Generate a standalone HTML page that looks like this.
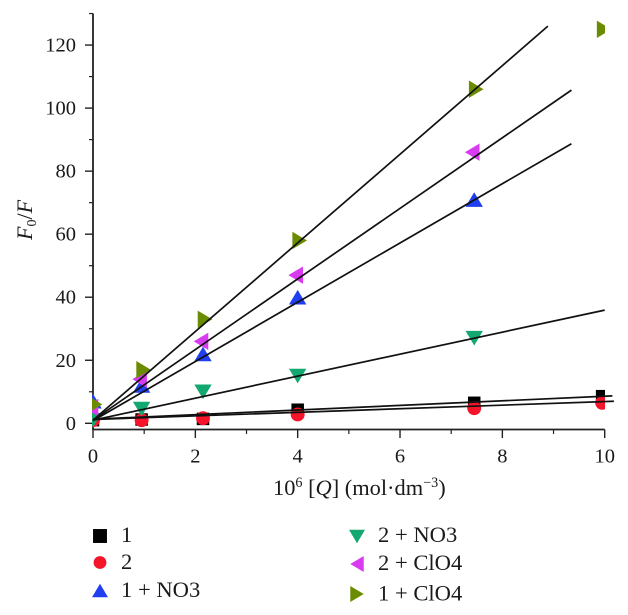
<!DOCTYPE html>
<html>
<head>
<meta charset="utf-8">
<title>Stern-Volmer plot</title>
<style>
html,body{margin:0;padding:0;background:#fff;}
body{width:628px;height:615px;overflow:hidden;}
svg{display:block;}
text{font-family:"Liberation Serif",serif;fill:#1a1a1a;}
</style>
</head>
<body>
<svg id="chart" width="628" height="615" viewBox="0 0 628 615" xmlns="http://www.w3.org/2000/svg">
<defs><clipPath id="plot-clip"><rect x="92" y="0" width="513" height="430"/></clipPath></defs>
<g id="axes"></g>
<g id="markers" clip-path="url(#plot-clip)"></g>
<g id="fits"></g>
<text x="273" y="495" font-size="22.4">10<tspan dy="-8" font-size="14.2">6</tspan><tspan dy="8"> [</tspan><tspan font-style="italic">Q</tspan>] (mol·dm<tspan dy="-8" font-size="14.2">−3</tspan><tspan dy="8">)</tspan></text>
<text transform="translate(32,240) rotate(-90)" font-size="22"><tspan font-style="italic">F</tspan><tspan dy="4" font-size="14">0</tspan><tspan dy="-4">/</tspan><tspan font-style="italic">F</tspan></text>
<g id="legend"></g>
</svg>
<script>
var xValues = [0, 0.95, 2.15, 4, 7.45, 9.95];
var seriesNames = ['1', '2', '1 + NO3', '2 + NO3', '2 + ClO4', '1 + ClO4'];
var series1 = [1, 1.2, 1.4, 4.3, 6.5, 8.6];
var series2 = [1, 1, 1.6, 2.8, 4.8, 6.5];
var series1NO3 = [7, 12, 22, 40, 71];
var series2NO3 = [1, 4.5, 10, 15, 27];
var series2ClO4 = [5, 14, 26, 47, 86];
var series1ClO4 = [6, 17, 33, 58, 106, 125];
var fitStartY = [1.3, 1.2, 0.8, 1, 1, 1];
var fitEndX = [10.15, 10.18, 9.35, 10, 9.35, 8.89];
var fitEndY = [8.7, 7, 88.7, 35.9, 105.7, 126];
var xTicks = [0, 2, 4, 6, 8, 10];
var yTicks = [0, 20, 40, 60, 80, 100, 120];
var xMinorTicks = [1, 3, 5, 7, 9];
var yMinorTicks = [10, 30, 50, 70, 90, 110, 130];

var seriesValues = [series1, series2, series1NO3, series2NO3, series2ClO4, series1ClO4];
var colors = ['#000000', '#f5142a', '#1f3ff0', '#12a870', '#d93cf0', '#6b8c00'];
var shapes = ['square', 'circle', 'up', 'down', 'left', 'right'];
var NS = 'http://www.w3.org/2000/svg';

function sx(v) { return 93 + v * 51.17; }
function sy(v) { return 423.3 - v * 3.152; }

function make(parent, tag, attrs) {
  var el = document.createElementNS(NS, tag);
  for (var k in attrs) { el.setAttribute(k, attrs[k]); }
  parent.appendChild(el);
  return el;
}

function drawMarker(parent, shape, cx, cy, color, r, squareFactor, sideShift) {
  var el;
  if (shape === 'square') {
    el = make(parent, 'rect', {x: cx - r * squareFactor, y: cy - r * squareFactor, width: 2 * r * squareFactor, height: 2 * r * squareFactor, fill: color});
  } else if (shape === 'circle') {
    el = make(parent, 'circle', {cx: cx, cy: cy, r: r * 0.8, fill: color});
  } else {
    var a = r, b = r * 0.84, pts;
    if (shape === 'up') pts = [[cx - a, cy + b], [cx + a, cy + b], [cx, cy - b]];
    if (shape === 'down') pts = [[cx - a, cy - b], [cx + a, cy - b], [cx, cy + b]];
    if (shape === 'left') { cx -= sideShift; pts = [[cx + b, cy - a], [cx + b, cy + a], [cx - b, cy]]; }
    if (shape === 'right') { cx += sideShift; pts = [[cx - b, cy - a], [cx - b, cy + a], [cx + b, cy]]; }
    el = make(parent, 'polygon', {points: pts.map(function (p) { return p.join(','); }).join(' '), fill: color});
  }
  return el;
}

var axes = document.getElementById('axes');
var axisColor = '#222222';
var xAxisLine = make(axes, 'line', {x1: sx(0), y1: 429.5, x2: sx(10), y2: 429.5, stroke: axisColor, 'stroke-width': 1.8});


var yAxisLine = make(axes, 'line', {x1: sx(0), y1: 13.5, x2: sx(0), y2: 430, stroke: axisColor, 'stroke-width': 1.8});



xTicks.forEach(function (t) {
  var tick = make(axes, 'line', {x1: sx(t), y1: 429.5, x2: sx(t), y2: 438, stroke: axisColor, 'stroke-width': 1.4});
  
  
  var label = make(axes, 'text', {x: sx(t), y: 462.5, 'text-anchor': 'middle', 'font-size': 20.5});
  label.textContent = t;
  
  
});
xMinorTicks.forEach(function (t) {
  var tick = make(axes, 'line', {x1: sx(t), y1: 429.5, x2: sx(t), y2: 434, stroke: axisColor, 'stroke-width': 1.2});
  
  
});
yTicks.forEach(function (t) {
  var tick = make(axes, 'line', {x1: 85, y1: sy(t), x2: sx(0), y2: sy(t), stroke: axisColor, 'stroke-width': 1.4});
  
  
  var label = make(axes, 'text', {x: 76, y: sy(t) + 6.5, 'text-anchor': 'end', 'font-size': 20.5});
  label.textContent = t;
  
  
});
yMinorTicks.forEach(function (t) {
  var tick = make(axes, 'line', {x1: 89, y1: sy(t), x2: sx(0), y2: sy(t), stroke: axisColor, 'stroke-width': 1.2});
  
  
});

var markers = document.getElementById('markers');
seriesValues.forEach(function (vals, i) {
  vals.forEach(function (v, j) {
    var m = drawMarker(markers, shapes[i], sx(xValues[j]), sy(v), colors[i], 8.7, 0.72, 2);
    
    
  });
});

var fits = document.getElementById('fits');
fitEndX.forEach(function (ex, i) {
  var l = make(fits, 'line', {x1: sx(0), y1: sy(fitStartY[i]), x2: sx(ex), y2: sy(fitEndY[i]), stroke: '#111111', 'stroke-width': 1.7});
  
  
});

var legendPosX = [100, 100, 100, 357, 357, 357];
var legendPosY = [536, 562.5, 590.5, 536.5, 564, 594];
var legendTextX = [121, 121, 121, 378, 378, 378];
var legendTextY = [542, 569, 597, 542, 570, 600.5];
var legend = document.getElementById('legend');
seriesNames.forEach(function (name, i) {
  var g = make(legend, 'g', {});
  
  
  drawMarker(g, shapes[i], legendPosX[i], legendPosY[i], colors[i], 8, 0.87, 0);
  var t = make(g, 'text', {x: legendTextX[i], y: legendTextY[i], 'font-size': 22.6});
  t.textContent = name;
});
</script>
</body>
</html>
